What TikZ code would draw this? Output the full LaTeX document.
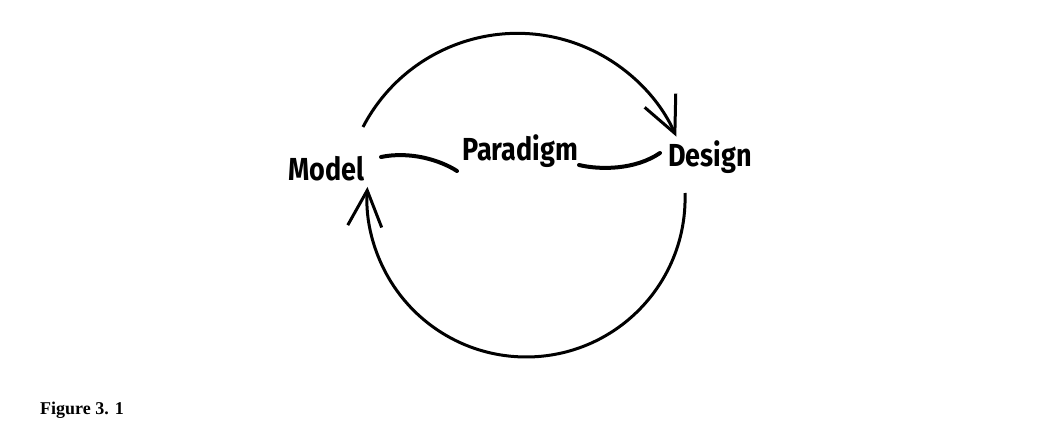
\documentclass[tikz,border=0pt]{standalone}
\usepackage{fontspec}
\usepackage{graphicx}
\setmainfont{Liberation Serif}
\newfontfamily\handfont{Fira Sans}
\usetikzlibrary{arrows.meta}
\newcommand{\tallword}[1]{\scalebox{1}[1.18]{#1}}
\begin{document}
\begin{tikzpicture}[x=1pt,y=-1pt,
  loop/.style={line width=3pt,-{Straight Barb[length=36pt,width=34pt,line width=3pt]}},
  link/.style={line width=4pt,line cap=round},
  word/.style={anchor=base west,inner sep=0pt,font=\handfont\bfseries\fontsize{27}{30}\selectfont}]
\useasboundingbox (0,0) rectangle (1054,431);
\node[word] (model) at (288,180) {\tallword{Model}};
\node[word] (paradigm) at (462,160) {\tallword{Paradigm}};
\node[word] (design) at (668,166.7) {\tallword{Design}};
\node[anchor=base west,inner sep=0pt,font=\bfseries\fontsize{18}{20}\selectfont] (cap) at (40,414.3) {Figure 3. 1};
% connectors
\coordinate (mTop) at (363,127);
\coordinate (dBot) at (685,193);
\coordinate (m1) at (381,157);
\coordinate (p1) at (457,171);
\coordinate (p2) at (579,165);
\coordinate (d1) at (660,153);
\draw[loop] (mTop) arc[start angle=207.5,end angle=336,radius=174];
\draw[loop] (dBot) arc[start angle=-1.8,end angle=184,radius=159];
\draw[link] (m1) .. controls (410,151) and (440,160) .. (p1);
\draw[link] (p2) .. controls (600,170) and (635,170) .. (d1);
\end{tikzpicture}
\end{document}
